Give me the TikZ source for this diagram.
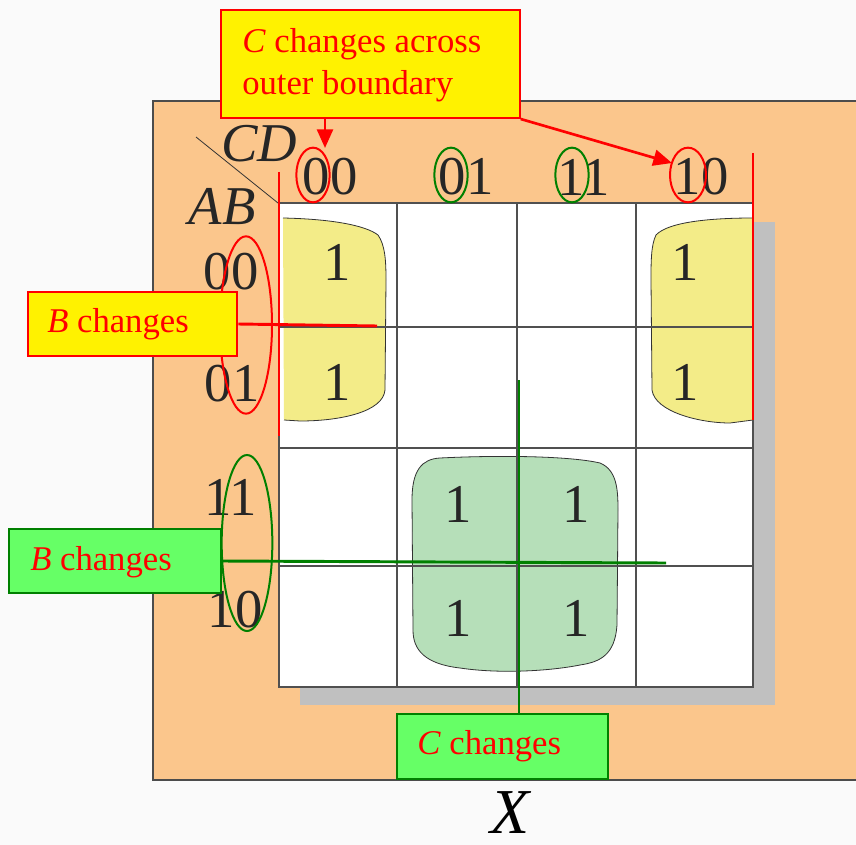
\documentclass[tikz,border=0pt]{standalone}
\usepackage{fontspec}
\setmainfont{Liberation Serif}
\usetikzlibrary{arrows.meta,shapes.geometric}
\definecolor{peach}{HTML}{FBC68C}
\definecolor{shadowgray}{HTML}{C0C0C0}
\definecolor{blobyellow}{HTML}{F3EC88}
\definecolor{blobgreen}{HTML}{B6DFB9}
\definecolor{boxgreen}{HTML}{66FF66}
\definecolor{darkgreen}{HTML}{008000}
\definecolor{gridline}{HTML}{505050}
\tikzset{
  lbl/.style={inner sep=0pt, font=\fontsize{41}{41}\selectfont, text=black!85},
  ital/.style={inner sep=0pt, font=\fontsize{41}{41}\selectfont\itshape, text=black!85},
  one/.style={inner sep=0pt, font=\fontsize{41}{41}\selectfont, text=black!85},
  ybox/.style={draw=red, line width=1.5pt, fill=yellow, text=red, inner sep=0pt, anchor=north west},
  gbox/.style={draw=darkgreen, line width=1.5pt, fill=boxgreen, text=red, inner sep=0pt, anchor=north west},
  calltext/.style={text=red, inner sep=0pt, font=\fontsize{26}{32}\selectfont},
  redring/.style={draw=red, line width=1.5pt, ellipse, inner sep=0pt},
  greenring/.style={draw=darkgreen, line width=1.5pt, ellipse, inner sep=0pt},
  redline/.style={draw=red, line width=2.2pt},
  greenline/.style={draw=darkgreen, line width=2.2pt},
  blob/.style={draw=black!80, line width=0.6pt},
}
\begin{document}
\begin{tikzpicture}[x=0.75pt,y=-0.75pt]
\useasboundingbox (0,0) rectangle (856,845);
\fill[black!2] (0,0) rectangle (856,845);
% peach panel
\fill[peach] (153,101) rectangle (856,780);
\draw[black!70, line width=0.8pt] (856,101) -- (153,101) -- (153,780) -- (856,780);
% shadow and white grid
\fill[shadowgray] (300,222) rectangle (775,705);
\fill[white] (279,203) rectangle (753,687);
% blobs
\fill[blobyellow] (283,218) .. controls (330,219) and (365,225) .. (378,235)
  .. controls (385,245) and (386,260) .. (386,280) -- (385,390)
  .. controls (383,412) and (340,421) .. (300,421) -- (284,420) -- cycle;
\draw[blob] (283,218) .. controls (330,219) and (365,225) .. (378,235)
  .. controls (385,245) and (386,260) .. (386,280) -- (385,390)
  .. controls (383,412) and (340,421) .. (300,421) -- (284,420);
\fill[blobyellow] (753,218) .. controls (710,218) and (668,222) .. (656,235)
  .. controls (651,245) and (651,262) .. (651,280) -- (652,390)
  .. controls (655,412) and (700,423) .. (730,423) -- (753,420) -- cycle;
\draw[blob] (753,218) .. controls (710,218) and (668,222) .. (656,235)
  .. controls (651,245) and (651,262) .. (651,280) -- (652,390)
  .. controls (655,412) and (700,423) .. (730,423) -- (753,420);
\filldraw[blob, fill=blobgreen] (440,458) .. controls (500,455) and (570,456) .. (600,463)
  .. controls (617,470) and (618,490) .. (618,510) -- (617,625)
  .. controls (615,655) and (600,662) .. (580,665)
  .. controls (550,671) and (500,674) .. (460,668)
  .. controls (425,664) and (413,650) .. (413,630) -- (412,500)
  .. controls (412,470) and (422,459) .. (440,458) -- cycle;
% grid
\draw[gridline, line width=0.8pt] (279,203) rectangle (753,687);
\draw[gridline, line width=0.8pt] (397,203) -- (397,687) (517,203) -- (517,687) (636,203) -- (636,687);
\draw[gridline, line width=0.8pt] (279,327) -- (753,327) (279,448) -- (753,448) (279,566) -- (753,566);
% corner diagonal
\draw[black!80, line width=0.6pt] (196,137) -- (278,203);
\node[ital] (cd) at (259,144) {CD};
\node[ital] (ab) at (222,207) {AB};
% column labels
\node[lbl] (c00) at (330,177) {00};
\node[lbl] (c01) at (466,177) {01};
\node[lbl] (c11) at (584,177) {11};
\node[lbl] (c10) at (701,177) {10};
% row labels
\node[lbl] (r00) at (231,272) {00};
\node[lbl] (r01) at (232,384) {01};
\node[lbl] (r11) at (231,497) {11};
\node[lbl] (r10) at (235,610) {10};
% entries
\node[one] (m0) at (337,262) {1};
\node[one] (m1) at (337,382) {1};
\node[one] (m2) at (685,262) {1};
\node[one] (m3) at (685,382) {1};
\node[one] (m4) at (458,504) {1};
\node[one] (m5) at (576,504) {1};
\node[one] (m6) at (458,618) {1};
\node[one] (m7) at (576,618) {1};
% rings
\node[redring, minimum width=25pt, minimum height=41pt] (ring00) at (313,175) {};
\node[greenring, minimum width=25pt, minimum height=41pt] (ring01) at (451,175) {};
\node[greenring, minimum width=25pt, minimum height=41pt] (ring11) at (572,175) {};
\node[redring, minimum width=27pt, minimum height=41pt] (ring10) at (688,175) {};
\node[redring, minimum width=39pt, minimum height=133pt] (ringrowsA) at (246,325) {};
\node[greenring, minimum width=38pt, minimum height=132pt] (ringrowsB) at (247,543) {};
% red boundary lines
\coordinate (rl1a) at (279,172);
\coordinate (rl1b) at (279,436);
\coordinate (rl2a) at (753,153);
\coordinate (rl2b) at (753,420);
\draw[redline] (rl1a) -- (rl1b);
\draw[redline] (rl2a) -- (rl2b);
% green vertical line end
\coordinate (gvt) at (519,380);
% callouts
\node[ybox, minimum width=224pt, minimum height=81pt] (topbox) at (220,9) {};
\node[calltext, anchor=north west, align=left] (toptext) at (242,28) {\textit{C} changes across\\outer boundary};
\node[ybox, minimum width=157pt, minimum height=48pt] (bbox1) at (27,291) {};
\node[calltext, anchor=west] (bt1) at (47,324) {\textit{B} changes};
\node[gbox, minimum width=159pt, minimum height=48pt] (bbox2) at (8,528) {};
\node[calltext, anchor=west] (bt2) at (30,562) {\textit{B} changes};
\node[gbox, minimum width=158pt, minimum height=49pt] (cbox) at (396,713) {};
\node[calltext, anchor=west] (ct) at (417,746) {\textit{C} changes};
% connectors
\coordinate (redend) at (377,326);
\draw[redline] (bbox1.east) -- (redend);
\coordinate (greenend) at (666,563);
\draw[greenline] (bbox2.east) -- (greenend);
\draw[greenline] (cbox.north -| gvt) -- (gvt);
\coordinate (arr1) at (325,148);
\coordinate (arr2) at (672,163);
\draw[red, line width=2pt, -{Triangle[length=14pt,width=12pt]}] (topbox.south -| arr1) -- (arr1);
\draw[red, line width=2pt, -{Triangle[length=14pt,width=12pt]}] (topbox.south east) -- (arr2);
% X
\node[inner sep=0pt, font=\fontsize{48}{48}\selectfont\itshape] (xlab) at (510,813) {X};
\end{tikzpicture}
\end{document}
